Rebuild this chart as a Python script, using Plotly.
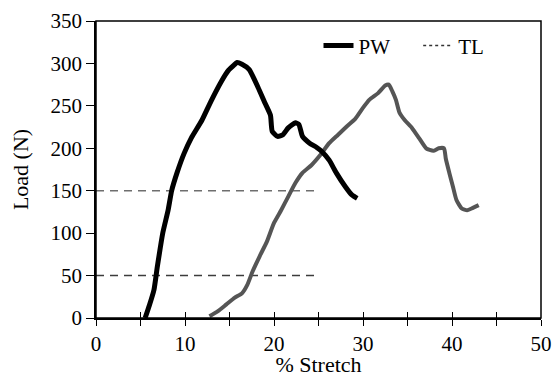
import plotly.graph_objects as go

pw_x = [5.52, 6.0, 6.51, 6.9, 7.5, 8.1, 8.5, 9.1, 9.9, 10.7, 11.9, 12.9, 14.1, 14.9, 15.5, 15.85, 16.4, 17.2,
        18.2, 19.0, 19.6, 19.8, 20.4, 21.0, 21.6, 22.4, 22.8, 23.2, 24.0, 24.8, 25.4, 26.2, 27.0,
        28.0, 28.75, 29.35]
pw_y = [0, 15, 33, 61, 100, 127, 150, 171, 194, 212, 233, 255, 279, 292, 298, 301, 299, 293,
        272, 253, 239, 220, 214, 216, 224, 230, 228, 214, 206, 201, 196, 186, 171,
        155, 145, 141]

tl_x = [12.75, 13.7, 14.65, 15.6, 16.4, 17.0, 17.6, 18.4, 19.2, 20.0, 20.8, 21.6, 22.4, 23.2,
        24.2, 25.2, 26.2, 27.2, 28.2, 29.15, 29.95, 30.7, 31.7, 32.5, 32.9, 33.3, 33.7, 34.1,
        34.7, 35.5, 36.3, 37.1, 37.9, 38.5, 39.1, 39.3, 39.7, 40.1, 40.5, 41.1, 41.7, 42.2, 43.0]
tl_y = [2, 8, 16, 24, 29, 39, 55, 73, 90, 112, 127, 143, 159, 171,
        180, 192, 206, 216, 226, 235, 247, 257, 265, 274, 275, 267, 257, 242,
        233, 224, 212, 200, 197, 200, 200, 188, 171, 155, 139, 129, 127, 129, 133]

ref_levels = [150, 50]
ref_colors = ["#6e6e6e", "#3c3c3c"]
ref_x_end = 25

x_tickvals = [0, 5, 10, 15, 20, 25, 30, 35, 40, 45, 50]
x_ticktext = ["0", "", "10", "", "20", "", "30", "", "40", "", "50"]
y_ticks = [0, 50, 100, 150, 200, 250, 300, 350]

FONT = "Liberation Serif, Times New Roman, serif"

fig = go.Figure()
fig.add_trace(go.Scatter(x=tl_x, y=tl_y, mode="lines", name="TL", showlegend=False,
                         line=dict(color="#555555", width=4, shape="spline", smoothing=0.5)))
fig.add_trace(go.Scatter(x=pw_x, y=pw_y, mode="lines", name="PW", legend="legend",
                         line=dict(color="#000000", width=5, shape="spline", smoothing=0.5)))
fig.add_trace(go.Scatter(x=[None], y=[None], mode="lines", name="TL", xaxis="x2", legend="legend2",
                         line=dict(color="#333333", width=1.5, dash="dot")))

for lvl, c in zip(ref_levels, ref_colors):
    fig.add_shape(type="line", xref="x", yref="y", x0=0, x1=ref_x_end, y0=lvl, y1=lvl,
                  line=dict(color=c, width=1.5, dash="8px,6px"), layer="below")

# plot frame
fig.add_shape(type="rect", xref="paper", yref="paper", x0=0, x1=1, y0=0, y1=1,
              line=dict(color="#000", width=1.5), layer="above")

axis_common = dict(showgrid=False, zeroline=False, linecolor="#000", linewidth=1.5,
                   tickcolor="#000", tickwidth=1.2, automargin=False, showline=True,
                   tickfont=dict(family=FONT, size=21, color="#000"))

leg_common = dict(orientation="h", yanchor="top", xanchor="left", y=0.985,
                  bgcolor="rgba(0,0,0,0)", font=dict(family=FONT, size=21))

fig.update_layout(
    width=553, height=377,
    margin=dict(l=96, r=12, t=21, b=59),
    paper_bgcolor="white", plot_bgcolor="white",
    font=dict(family=FONT, size=21, color="#000"),
    xaxis=dict(range=[0, 50], tickvals=x_tickvals, ticktext=x_ticktext, ticks="outside",
               ticklen=6, title=dict(text="% Stretch", font=dict(family=FONT, size=22), standoff=3),
               **axis_common),
    xaxis2=dict(range=[0, 50], overlaying="x", side="bottom", tickvals=x_tickvals,
                ticks="inside", ticklen=6, showticklabels=False, showgrid=False, zeroline=False,
                showline=False, tickcolor="#000", tickwidth=1.2, automargin=False),
    yaxis=dict(range=[0, 350], tickvals=y_ticks, ticks="outside", ticklen=8,
               title=dict(text="Load (N)", font=dict(family=FONT, size=22), standoff=16),
               **axis_common),
    legend=dict(x=0.50, **leg_common),
    legend2=dict(x=0.724, **leg_common),
    showlegend=True,
)

fig.write_html("out.html", config={"displayModeBar": False},
               post_script="document.body.style.margin='0';document.body.style.overflow='hidden';")
